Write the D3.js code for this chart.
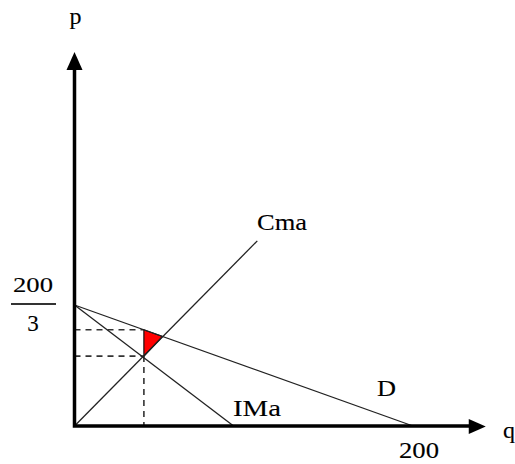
<!DOCTYPE html>
<html>
<head>
<meta charset="utf-8">
<script src="https://cdn.jsdelivr.net/npm/d3@7"></script>
<style>
  html, body { margin: 0; padding: 0; background: #fff; }
  svg { display: block; }
  text { font-family: "Liberation Serif", "Times New Roman", serif; fill: #000; stroke: #000; stroke-width: 0.12px; }
</style>
</head>
<body>
<div id="chart"></div>
<script>
// curves (q, p)
const demandQ = [0, 200];
const demandP = [200 / 3, 0];
const imaQ = [0, 94];
const imaP = [200 / 3, 0];
const cmaQ = [0, 108];
const cmaP = [0, 102];

// monopoly point and welfare loss triangle
const qMono = 41;
const pMono = 53;
const cMono = 38.5;
const lossQ = [41, 41, 52];
const lossP = [53, 38.5, 49.3];

// axis extent and labels
const qAxisMax = 243;
const pAxisMax = 206;
const xTickValue = 200;
const xTickLabel = "200";
const yTickValue = 200 / 3;
const yTickNum = "200";
const yTickDen = "3";
const curveLabels = ["D", "IMa", "Cma"];

const width = 515, height = 464;

const svg = d3.select("#chart").append("svg")
    .attr("width", width)
    .attr("height", height);

const x = d3.scaleLinear().domain([0, 200]).range([74.5, 413]);
const y = d3.scaleLinear().domain([0, 200 / 3]).range([426, 305]);

const line = d3.line().x(d => x(d[0])).y(d => y(d[1]));
const pairs = (qs, ps) => qs.map((q, i) => [q, ps[i]]);

// dashed guides
const dashed = [
    [[0, pMono], [qMono, pMono]],
    [[0, cMono], [qMono, cMono]],
    [[qMono, cMono], [qMono, 0]]
];
svg.append("g").selectAll("path")
    .data(dashed)
    .enter()
    .append("path")
    .attr("d", line)
    .attr("fill", "none")
    .attr("stroke", "#333")
    .attr("stroke-width", 1.6)
    .attr("stroke-dasharray", "6,5");

// triangle
svg.append("path")
    .attr("d", line(pairs(lossQ, lossP)) + "Z")
    .attr("fill", "#ff0000")
    .attr("stroke", "#111")
    .attr("stroke-width", 1.2);

// curves
const curves = [pairs(demandQ, demandP), pairs(imaQ, imaP), pairs(cmaQ, cmaP)];
svg.append("g").selectAll("path")
    .data(curves)
    .enter()
    .append("path")
    .attr("d", line)
    .attr("fill", "none")
    .attr("stroke", "#222")
    .attr("stroke-width", 1.3);

// axes with arrow heads
const x0 = x(0), y0 = y(0);
const xTip = x(qAxisMax), yTip = y(pAxisMax);
svg.append("path")
    .attr("d", `M${x0},${yTip + 16}L${x0},${y0}L${xTip - 14},${y0}`)
    .attr("fill", "none")
    .attr("stroke", "#000")
    .attr("stroke-width", 3.5)
    .attr("stroke-linecap", "square");
svg.append("path")
    .attr("d", `M${x0},${yTip}L${x0 - 8},${yTip + 18}L${x0 + 8},${yTip + 18}Z`)
    .attr("fill", "#000");
svg.append("path")
    .attr("d", `M${xTip},${y0 + 0.5}L${xTip - 17},${y0 - 7}L${xTip - 17},${y0 + 8}Z`)
    .attr("fill", "#000");

// axis names
svg.append("text")
    .attr("x", x0 + 1)
    .attr("y", 24)
    .attr("text-anchor", "middle")
    .style("font-size", "24px")
    .text("p");
svg.append("text")
    .attr("x", 503)
    .attr("y", 438)
    .style("font-size", "24px")
    .text("q");

// tick labels
svg.append("text")
    .attr("x", x(xTickValue) - 14)
    .attr("y", 458)
    .attr("textLength", 40)
    .attr("lengthAdjust", "spacingAndGlyphs")
    .style("font-size", "24px")
    .text(xTickLabel);

const yt = y(yTickValue);
svg.append("text")
    .attr("x", 13)
    .attr("y", yt - 13)
    .attr("textLength", 40)
    .attr("lengthAdjust", "spacingAndGlyphs")
    .style("font-size", "22px")
    .text(yTickNum);
svg.append("line")
    .attr("x1", 11).attr("x2", 56)
    .attr("y1", yt - 1).attr("y2", yt - 1)
    .attr("stroke", "#333")
    .attr("stroke-width", 1.8);
svg.append("text")
    .attr("x", 33)
    .attr("y", yt + 26)
    .attr("text-anchor", "middle")
    .style("font-size", "23px")
    .text(yTickDen);

// curve labels
const labelPos = [[377, 396, 19], [233, 416, 48], [257, 230, 50]];
svg.append("g").selectAll("text")
    .data(curveLabels)
    .enter()
    .append("text")
    .attr("x", (d, i) => labelPos[i][0])
    .attr("y", (d, i) => labelPos[i][1])
    .attr("textLength", (d, i) => labelPos[i][2])
    .attr("lengthAdjust", "spacingAndGlyphs")
    .style("font-size", "24px")
    .text(d => d);
</script>
</body>
</html>
